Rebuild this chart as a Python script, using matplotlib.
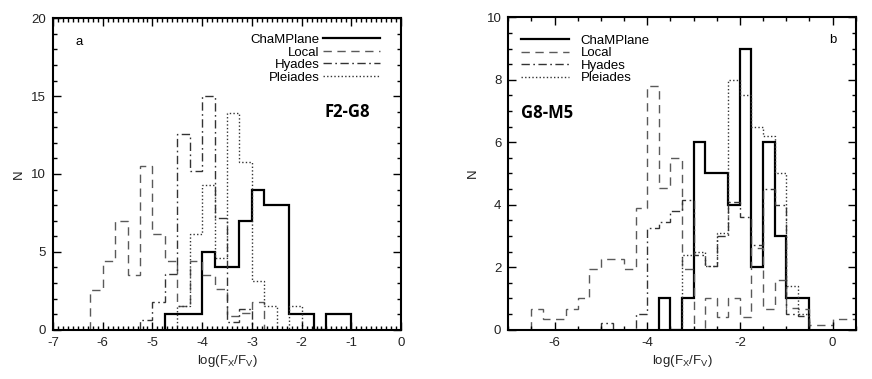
import numpy as np
import matplotlib
matplotlib.use("Agg")
import matplotlib.pyplot as plt
from matplotlib.lines import Line2D
from matplotlib.ticker import MultipleLocator

plt.rcParams['font.family'] = ['Liberation Sans', 'DejaVu Sans']
plt.rcParams['axes.unicode_minus'] = False

BIN = 0.25
series_labels = ["ChaMPlane", "Local", "Hyades", "Pleiades"]

# Panel a (F2-G8): start of first bin + bin heights
a_champ_start = -4.75
a_champ = [1, 1, 1, 5, 4, 4, 7, 9, 8, 8, 1, 1, 0, 1, 1]
a_local_start = -6.25
a_local = [2.56, 4.38, 7.0, 3.5, 10.5, 6.15, 4.38, 1.5, 4.38, 3.5, 2.6, 0.9, 1.1, 1.8]
a_hyades_start = -5.25
a_hyades = [0.6, 1.8, 3.6, 12.6, 10.2, 15.0, 7.2, 0.5, 1.3]
a_pleiades_start = -4.5
a_pleiades = [1.5, 6.15, 9.3, 4.6, 13.9, 10.8, 3.1, 1.5, 0, 1.5]

# Panel b (G8-M5)
b_champ_start = -3.75
b_champ = [1, 0, 1, 6, 5, 5, 4, 9, 2, 6, 3, 1, 1]
b_local_start = -6.5
b_local = [0.65, 0.33, 0.33, 0.65, 1.0, 1.95, 2.25, 2.25, 1.95, 3.9,
           7.8, 4.55, 5.5, 1.95, 0, 1.0, 0.4, 1.0, 0.4, 2.6,
           0.65, 1.6, 0.7, 0.65, 0.15, 0.15, 0.35, 0.35]
b_hyades_start = -5.0
b_hyades = [0.2, 0, 0, 0.5, 3.25, 3.45, 3.8, 4.15, 2.4, 2.04, 3.0, 4.1,
            3.6, 2.7, 4.5, 4.0, 0.5, 0.45]
b_pleiades_start = -3.25
b_pleiades = [2.4, 2.5, 2.04, 3.1, 8.0, 7.5, 6.5, 6.2, 5.0, 1.4, 0.5]

styles = [
    dict(color="black", lw=1.6, ls="-"),
    dict(color="#5a5a5a", lw=1.0, ls=(0, (6, 4))),
    dict(color="#333333", lw=1.0, ls=(0, (6, 2.5, 1.2, 2.5))),
    dict(color="#333333", lw=1.0, ls=(0, (1, 1.6))),
]


def edges(start, vals):
    return start + BIN * np.arange(len(vals) + 1)


def draw(ax, data):
    for (start, vals), st in zip(data, styles):
        ax.stairs(vals, edges(start, vals), baseline=0, **st)


fig = plt.figure(figsize=(8.72, 3.79), dpi=100)
axa = fig.add_axes([0.0608, 0.1301, 0.3991, 0.8216])
axb = fig.add_axes([0.5829, 0.1301, 0.3984, 0.8243])

draw(axa, [(a_champ_start, a_champ), (a_local_start, a_local),
           (a_hyades_start, a_hyades), (a_pleiades_start, a_pleiades)])
draw(axb, [(b_champ_start, b_champ), (b_local_start, b_local),
           (b_hyades_start, b_hyades), (b_pleiades_start, b_pleiades)])

axa.set_xlim(-7, 0)
axa.set_ylim(0, 20)
axa.xaxis.set_major_locator(MultipleLocator(1))
axa.xaxis.set_minor_locator(MultipleLocator(0.1))
axa.yaxis.set_major_locator(MultipleLocator(5))
axa.yaxis.set_minor_locator(MultipleLocator(1))

axb.set_xlim(-7, 0.5)
axb.set_ylim(0, 10)
axb.xaxis.set_major_locator(MultipleLocator(2))
axb.xaxis.set_minor_locator(MultipleLocator(0.5))
axb.yaxis.set_major_locator(MultipleLocator(2))
axb.yaxis.set_minor_locator(MultipleLocator(0.5))

for ax in (axa, axb):
    for sp in ax.spines.values():
        sp.set_linewidth(1.5)
    ax.tick_params(which="both", direction="in", top=True, right=True,
                   labelsize=9.5, width=1.0, pad=5, labelcolor="#222222")
    ax.tick_params(which="major", length=6)
    ax.tick_params(which="minor", length=3)
    ax.set_xlabel(r"log(F$_\mathregular{X}$/F$_\mathregular{V}$)", fontsize=9.5,
                  labelpad=3, color="#222222")
axa.set_ylabel("N", fontsize=9.5, color="#222222")
axb.set_ylabel("N", fontsize=9.5, color="#222222")
axa.yaxis.set_label_coords(-0.08, 0.5)
axb.yaxis.set_label_coords(-0.085, 0.5)

handles = [Line2D([], [], **st) for st in styles]
axa.legend(handles, series_labels, loc="upper right", bbox_to_anchor=(0.94, 0.95),
           frameon=False, markerfirst=False, handlelength=4.3, handletextpad=0.3,
           labelspacing=0.02, borderpad=0, borderaxespad=0, fontsize=9.5)
axb.legend(handles, series_labels, loc="upper left", bbox_to_anchor=(0.037, 0.945),
           frameon=False, markerfirst=True, handlelength=3.6, handletextpad=0.9,
           labelspacing=0.02, borderpad=0, borderaxespad=0, fontsize=9.5)

axa.text(0.075, 0.925, "a", transform=axa.transAxes, fontsize=9.5, ha="center", va="center")
axb.text(0.933, 0.928, "b", transform=axb.transAxes, fontsize=9.5, ha="center", va="center")
axa.text(0.845, 0.70, "F2-G8", transform=axa.transAxes, fontsize=12, fontweight="bold",
         family=["Open Sans", "DejaVu Sans"], ha="center", va="center")
axb.text(0.113, 0.695, "G8-M5", transform=axb.transAxes, fontsize=12, fontweight="bold",
         family=["Open Sans", "DejaVu Sans"], ha="center", va="center")

fig.savefig("out.png", dpi=100)
